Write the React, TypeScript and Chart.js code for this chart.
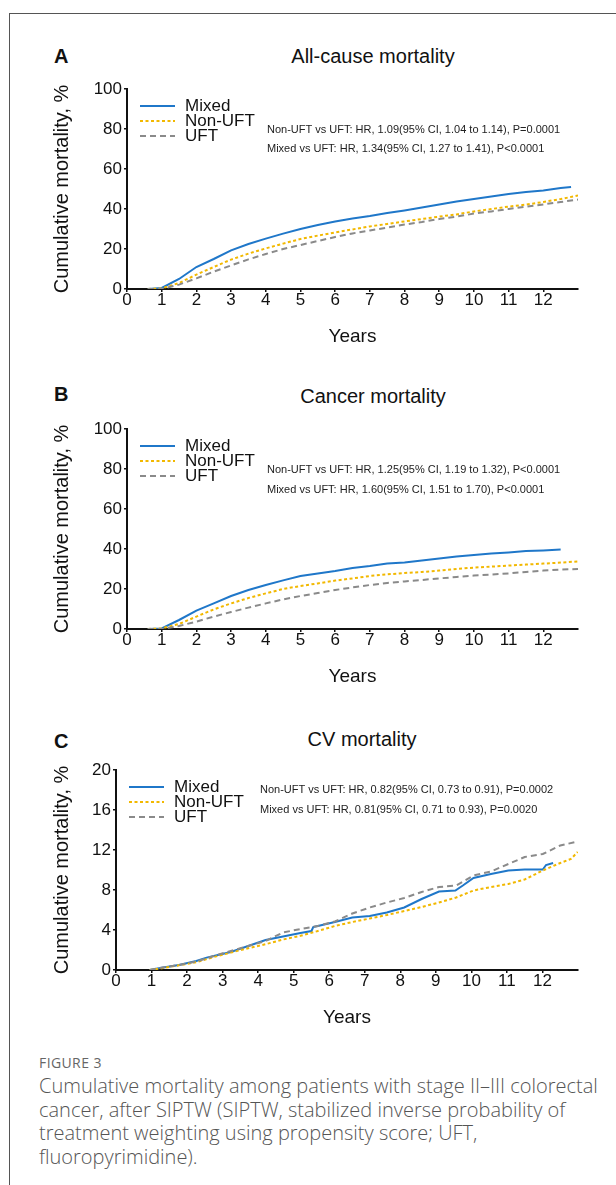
import React, { useEffect, useRef } from 'react';
import { Chart, registerables } from 'chart.js';

Chart.register(...registerables);

const FONT = '"Liberation Sans", Arial, Helvetica, sans-serif';

const SERIES = ['Mixed', 'Non-UFT', 'UFT'];
const SERIES_COLORS = ['#1f77c9', '#f2b800', '#8a8a8a'];
const SERIES_DASH: number[][] = [[], [3, 2.5], [6, 4]];

const X_TICK_LABELS = ['0', '1', '2', '3', '4', '5', '6', '7', '8', '9', '10', '11', '12'];
const X_MAX = 13;

// Shared time grid (years) for panels A and B
const GRID_T = [0.6, 1, 1.5, 2, 2.5, 3, 3.5, 4, 4.5, 5, 5.5, 6, 6.5, 7, 7.5, 8, 8.5, 9, 9.5, 10, 10.5, 11, 11.5, 12, 12.5, 13];

// Panel A: all-cause mortality (%)
const A_MIXED_T = [0.6, 1, 1.5, 2, 2.5, 3, 3.5, 4, 4.5, 5, 5.5, 6, 6.5, 7, 7.5, 8, 8.5, 9, 9.5, 10, 10.5, 11, 11.5, 12, 12.5, 12.8];
const A_MIXED = [0, 0.5, 5, 11, 15, 19.3, 22.5, 25.2, 27.7, 30, 32, 33.7, 35.3, 36.5, 38, 39.3, 40.7, 42.2, 43.7, 45, 46.2, 47.5, 48.5, 49.3, 50.5, 51];
const A_NONUFT = [0, 0.3, 3, 7.2, 11, 14.7, 17.7, 20.3, 22.7, 25, 26.7, 28.3, 29.8, 31.3, 32.5, 33.8, 35, 36.2, 37.3, 38.8, 40, 41.2, 42.2, 43.5, 45, 46.7];
const A_UFT = [0, 0, 2.2, 5.3, 8.7, 11.8, 14.8, 17.5, 20, 22, 24, 26, 27.8, 29.3, 30.7, 32.2, 33.5, 35, 36.2, 37.7, 38.8, 40, 41.2, 42.3, 43.5, 44.7];
const A_NOTES = [
  'Non-UFT vs UFT: HR, 1.09(95% CI, 1.04 to 1.14), P=0.0001',
  'Mixed vs UFT: HR, 1.34(95% CI, 1.27 to 1.41), P<0.0001',
];

// Panel B: cancer mortality (%)
const B_MIXED_T = [0.6, 1, 1.5, 2, 2.5, 3, 3.5, 4, 4.5, 5, 5.5, 6, 6.5, 7, 7.5, 8, 8.5, 9, 9.5, 10, 10.5, 11, 11.5, 12, 12.5];
const B_MIXED = [0, 0.3, 4.5, 9.2, 12.8, 16.5, 19.5, 22, 24.3, 26.5, 27.8, 29, 30.5, 31.5, 32.7, 33.3, 34.2, 35.2, 36.2, 37, 37.7, 38.3, 39, 39.3, 39.7];
const B_NONUFT = [0, 0.3, 2.5, 6.2, 9.8, 12.8, 15.5, 17.8, 20, 21.5, 22.8, 24.2, 25.3, 26.5, 27.3, 28, 28.5, 29.2, 30, 30.7, 31.2, 31.7, 32.2, 32.7, 33.2, 33.8];
const B_UFT = [0, 0, 1.5, 3.7, 6.2, 8.5, 10.7, 12.8, 14.8, 16.5, 18, 19.5, 20.8, 22, 23, 23.8, 24.5, 25.3, 26, 26.7, 27.2, 27.8, 28.5, 29.2, 29.7, 30];
const B_NOTES = [
  'Non-UFT vs UFT: HR, 1.25(95% CI, 1.19 to 1.32), P<0.0001',
  'Mixed vs UFT: HR, 1.60(95% CI, 1.51 to 1.70), P<0.0001',
];

// Panel C: CV mortality (%)
const C_MIXED_T = [0.95, 1.28, 1.77, 2.26, 2.55, 2.75, 3.23, 3.72, 4.21, 4.7, 5.19, 5.5, 5.55, 5.68, 6.16, 6.65, 7.14, 7.62, 8.11, 8.6, 9.09, 9.55, 9.76, 10.06, 10.55, 11.04, 11.5, 12.01, 12.1, 12.3];
const C_MIXED = [0, 0.23, 0.5, 0.9, 1.24, 1.4, 1.8, 2.4, 3.0, 3.35, 3.7, 3.9, 4.3, 4.4, 4.8, 5.25, 5.4, 5.75, 6.25, 7.1, 7.85, 7.95, 8.45, 9.2, 9.6, 9.95, 10.05, 10.05, 10.5, 10.7];
const C_NONUFT_T = [0.95, 1.28, 1.77, 2.26, 2.75, 3.23, 3.72, 4.21, 4.7, 5.19, 5.68, 6.16, 6.65, 7.14, 7.62, 8.11, 8.6, 9.09, 9.57, 10.06, 10.55, 11.04, 11.5, 12.01, 12.5, 12.8, 12.99];
const C_NONUFT = [0, 0.17, 0.47, 0.77, 1.3, 1.74, 2.18, 2.58, 3.05, 3.42, 3.9, 4.4, 4.8, 5.15, 5.5, 5.9, 6.3, 6.75, 7.25, 7.95, 8.3, 8.6, 9.05, 9.95, 10.7, 11.1, 11.8];
const C_UFT_T = [0.95, 1.28, 1.77, 2.26, 2.75, 3.23, 3.72, 4.21, 4.7, 5.19, 5.68, 6.16, 6.65, 7.14, 7.62, 8.11, 8.6, 9.09, 9.57, 10.06, 10.55, 11.04, 11.5, 12.01, 12.5, 12.99];
const C_UFT = [0, 0.23, 0.5, 0.84, 1.4, 1.9, 2.4, 2.9, 3.75, 4.1, 4.4, 4.85, 5.65, 6.25, 6.75, 7.2, 7.8, 8.3, 8.45, 9.45, 9.85, 10.6, 11.3, 11.6, 12.45, 12.85];
const C_NOTES = [
  'Non-UFT vs UFT: HR, 0.82(95% CI, 0.73 to 0.91), P=0.0002',
  'Mixed vs UFT: HR, 0.81(95% CI, 0.71 to 0.93), P=0.0020',
];

const CAPTION_LINES = [
  'Cumulative mortality among patients with stage II\u2013III colorectal',
  'cancer, after SIPTW (SIPTW, stabilized inverse probability of',
  'treatment weighting using propensity score; UFT,',
  'fluoropyrimidine).',
];

type PanelCfg = {
  letter: string;
  title: string;
  chartTop: number;
  chartLeft: number;
  yMax: number;
  yStep: number;
  series: { t: number[]; v: number[] }[];
  notes: string[];
  noteX: number;
  noteY: number[];
  letterY: number;
  titleX: number;
  titleY: number;
};

const PANELS: PanelCfg[] = [
  {
    letter: 'A', title: 'All-cause mortality', chartTop: 89, chartLeft: 127, yMax: 100, yStep: 20,
    series: [{ t: A_MIXED_T, v: A_MIXED }, { t: GRID_T, v: A_NONUFT }, { t: GRID_T, v: A_UFT }],
    notes: A_NOTES, noteX: 140, noteY: [41, 60], letterY: 56, titleX: 373, titleY: 56,
  },
  {
    letter: 'B', title: 'Cancer mortality', chartTop: 429, chartLeft: 127, yMax: 100, yStep: 20,
    series: [{ t: B_MIXED_T, v: B_MIXED }, { t: GRID_T, v: B_NONUFT }, { t: GRID_T, v: B_UFT }],
    notes: B_NOTES, noteX: 140, noteY: [41, 61], letterY: 394, titleX: 373, titleY: 396,
  },
  {
    letter: 'C', title: 'CV mortality', chartTop: 770, chartLeft: 116, yMax: 20, yStep: 4,
    series: [{ t: C_MIXED_T, v: C_MIXED }, { t: C_NONUFT_T, v: C_NONUFT }, { t: C_UFT_T, v: C_UFT }],
    notes: C_NOTES, noteX: 144, noteY: [20, 40], letterY: 741, titleX: 362, titleY: 739,
  },
];

const PAD_TOP = 20;
const PLOT_H = 200;
const X_AXIS_H = 60;
const CANVAS_H = PAD_TOP + PLOT_H + X_AXIS_H;
const CANVAS_W = 616;
const PAD_LEFT = 44;
const PAD_RIGHT = 38;

function makeOverlay(cfg: PanelCfg) {
  return {
    id: 'overlay',
    afterDatasetsDraw(chart: any) {
      const { ctx, chartArea } = chart;
      const L = chartArea.left;
      const T = chartArea.top;
      const rows = [17, 32, 47];
      ctx.save();
      chart.data.datasets.forEach((ds: any, i: number) => {
        const y = T + rows[i];
        ctx.strokeStyle = ds.borderColor;
        ctx.lineWidth = 2;
        ctx.setLineDash(ds.borderDash || []);
        ctx.beginPath();
        ctx.moveTo(L + 13, y);
        ctx.lineTo(L + 48, y);
        ctx.stroke();
        ctx.setLineDash([]);
        ctx.fillStyle = '#111';
        ctx.font = '17px ' + FONT;
        ctx.textAlign = 'left';
        ctx.textBaseline = 'middle';
        ctx.fillText(ds.label, L + 58, y + 0.5);
      });
      ctx.font = '11px ' + FONT;
      ctx.fillStyle = '#222';
      ctx.textBaseline = 'middle';
      cfg.notes.forEach((s, i) => ctx.fillText(s, L + cfg.noteX, T + cfg.noteY[i]));
      ctx.restore();
    },
  };
}

function Panel({ cfg }: { cfg: PanelCfg }) {
  const ref = useRef<HTMLCanvasElement>(null);
  useEffect(() => {
    if (!ref.current) return;
    const chart = new Chart(ref.current, {
      type: 'line',
      data: {
        datasets: cfg.series.map((s, i) => ({
          label: SERIES[i],
          data: s.t.map((t, j) => ({ x: t, y: s.v[j] })),
          borderColor: SERIES_COLORS[i],
          borderDash: SERIES_DASH[i],
          borderWidth: 2,
          pointRadius: 0,
          tension: 0,
          fill: false,
          order: 3 - i,
        })),
      },
      options: {
        responsive: false,
        animation: false,
        devicePixelRatio: 1,
        layout: { padding: { left: PAD_LEFT, right: PAD_RIGHT, top: PAD_TOP, bottom: 0 } },
        plugins: { legend: { display: false }, tooltip: { enabled: false }, title: { display: false } },
        scales: {
          x: {
            type: 'linear',
            min: 0,
            max: X_MAX,
            afterFit: (s: any) => { s.height = X_AXIS_H; },
            border: { display: true, color: '#111', width: 2 },
            grid: {
              drawOnChartArea: false,
              drawTicks: true,
              tickLength: 3,
              lineWidth: 1.5,
              color: (c: any) => (c.tick && c.tick.value >= X_MAX ? 'rgba(0,0,0,0)' : '#111'),
            },
            ticks: {
              stepSize: 1,
              autoSkip: false,
              maxRotation: 0,
              padding: 0,
              color: '#111',
              font: { family: FONT, size: 17, lineHeight: 1 },
              callback: (v: any) => (X_TICK_LABELS[v] !== undefined ? X_TICK_LABELS[v] : ''),
            },
            title: {
              display: true,
              text: 'Years',
              color: '#111',
              font: { family: FONT, size: 19 },
              padding: { top: 0, bottom: 0.6 },
            },
          },
          y: {
            type: 'linear',
            min: 0,
            max: cfg.yMax,
            afterFit: (s: any) => { s.width = cfg.chartLeft - PAD_LEFT; },
            border: { display: true, color: '#111', width: 2 },
            grid: { drawOnChartArea: false, drawTicks: true, tickLength: 3, lineWidth: 1.5, color: '#111' },
            ticks: {
              stepSize: cfg.yStep,
              padding: 2,
              color: '#111',
              font: { family: FONT, size: 17 },
            },
            title: {
              display: true,
              text: 'Cumulative mortality, %',
              color: '#111',
              font: { family: FONT, size: 20 },
              padding: { top: 6, bottom: 0 },
            },
          },
        },
      },
      plugins: [makeOverlay(cfg)],
    } as any);
    return () => chart.destroy();
  }, []);
  return (
    <canvas
      ref={ref}
      width={CANVAS_W}
      height={CANVAS_H}
      style={{ position: 'absolute', left: 0, top: cfg.chartTop - PAD_TOP, width: CANVAS_W, height: CANVAS_H }}
    />
  );
}

export default function App() {
  return (
    <div style={{ position: 'absolute', left: 0, top: 0, width: 616, height: 1185, overflow: 'hidden', background: '#fff', fontFamily: FONT }}>
      <div style={{ position: 'absolute', left: 9, top: 13, width: 700, height: 1300, borderLeft: '1px solid #555', borderTop: '1px solid #555' }} />
      {PANELS.map((p) => (
        <React.Fragment key={p.letter}>
          <div style={{ position: 'absolute', left: 54, top: p.letterY - 10, fontSize: 20, lineHeight: '20px', fontWeight: 'bold', color: '#111' }}>{p.letter}</div>
          <div style={{ position: 'absolute', left: p.titleX - 200, width: 400, top: p.titleY - 10, fontSize: 20, lineHeight: '20px', textAlign: 'center', color: '#111' }}>{p.title}</div>
          <Panel cfg={p} />
        </React.Fragment>
      ))}
      <div style={{ position: 'absolute', left: 39, top: 1054, fontFamily: '"Open Sans", sans-serif', fontSize: 14, lineHeight: '18px', color: '#666', letterSpacing: 0.4 }}>FIGURE 3</div>
      <div style={{ position: 'absolute', left: 39, top: 1074, fontFamily: '"Open Sans", sans-serif', fontWeight: 300, fontSize: 20, lineHeight: '23.5px', color: '#555', whiteSpace: 'nowrap' }}>
        {CAPTION_LINES.map((l, i) => (
          <div key={i}>{l}</div>
        ))}
      </div>
    </div>
  );
}
